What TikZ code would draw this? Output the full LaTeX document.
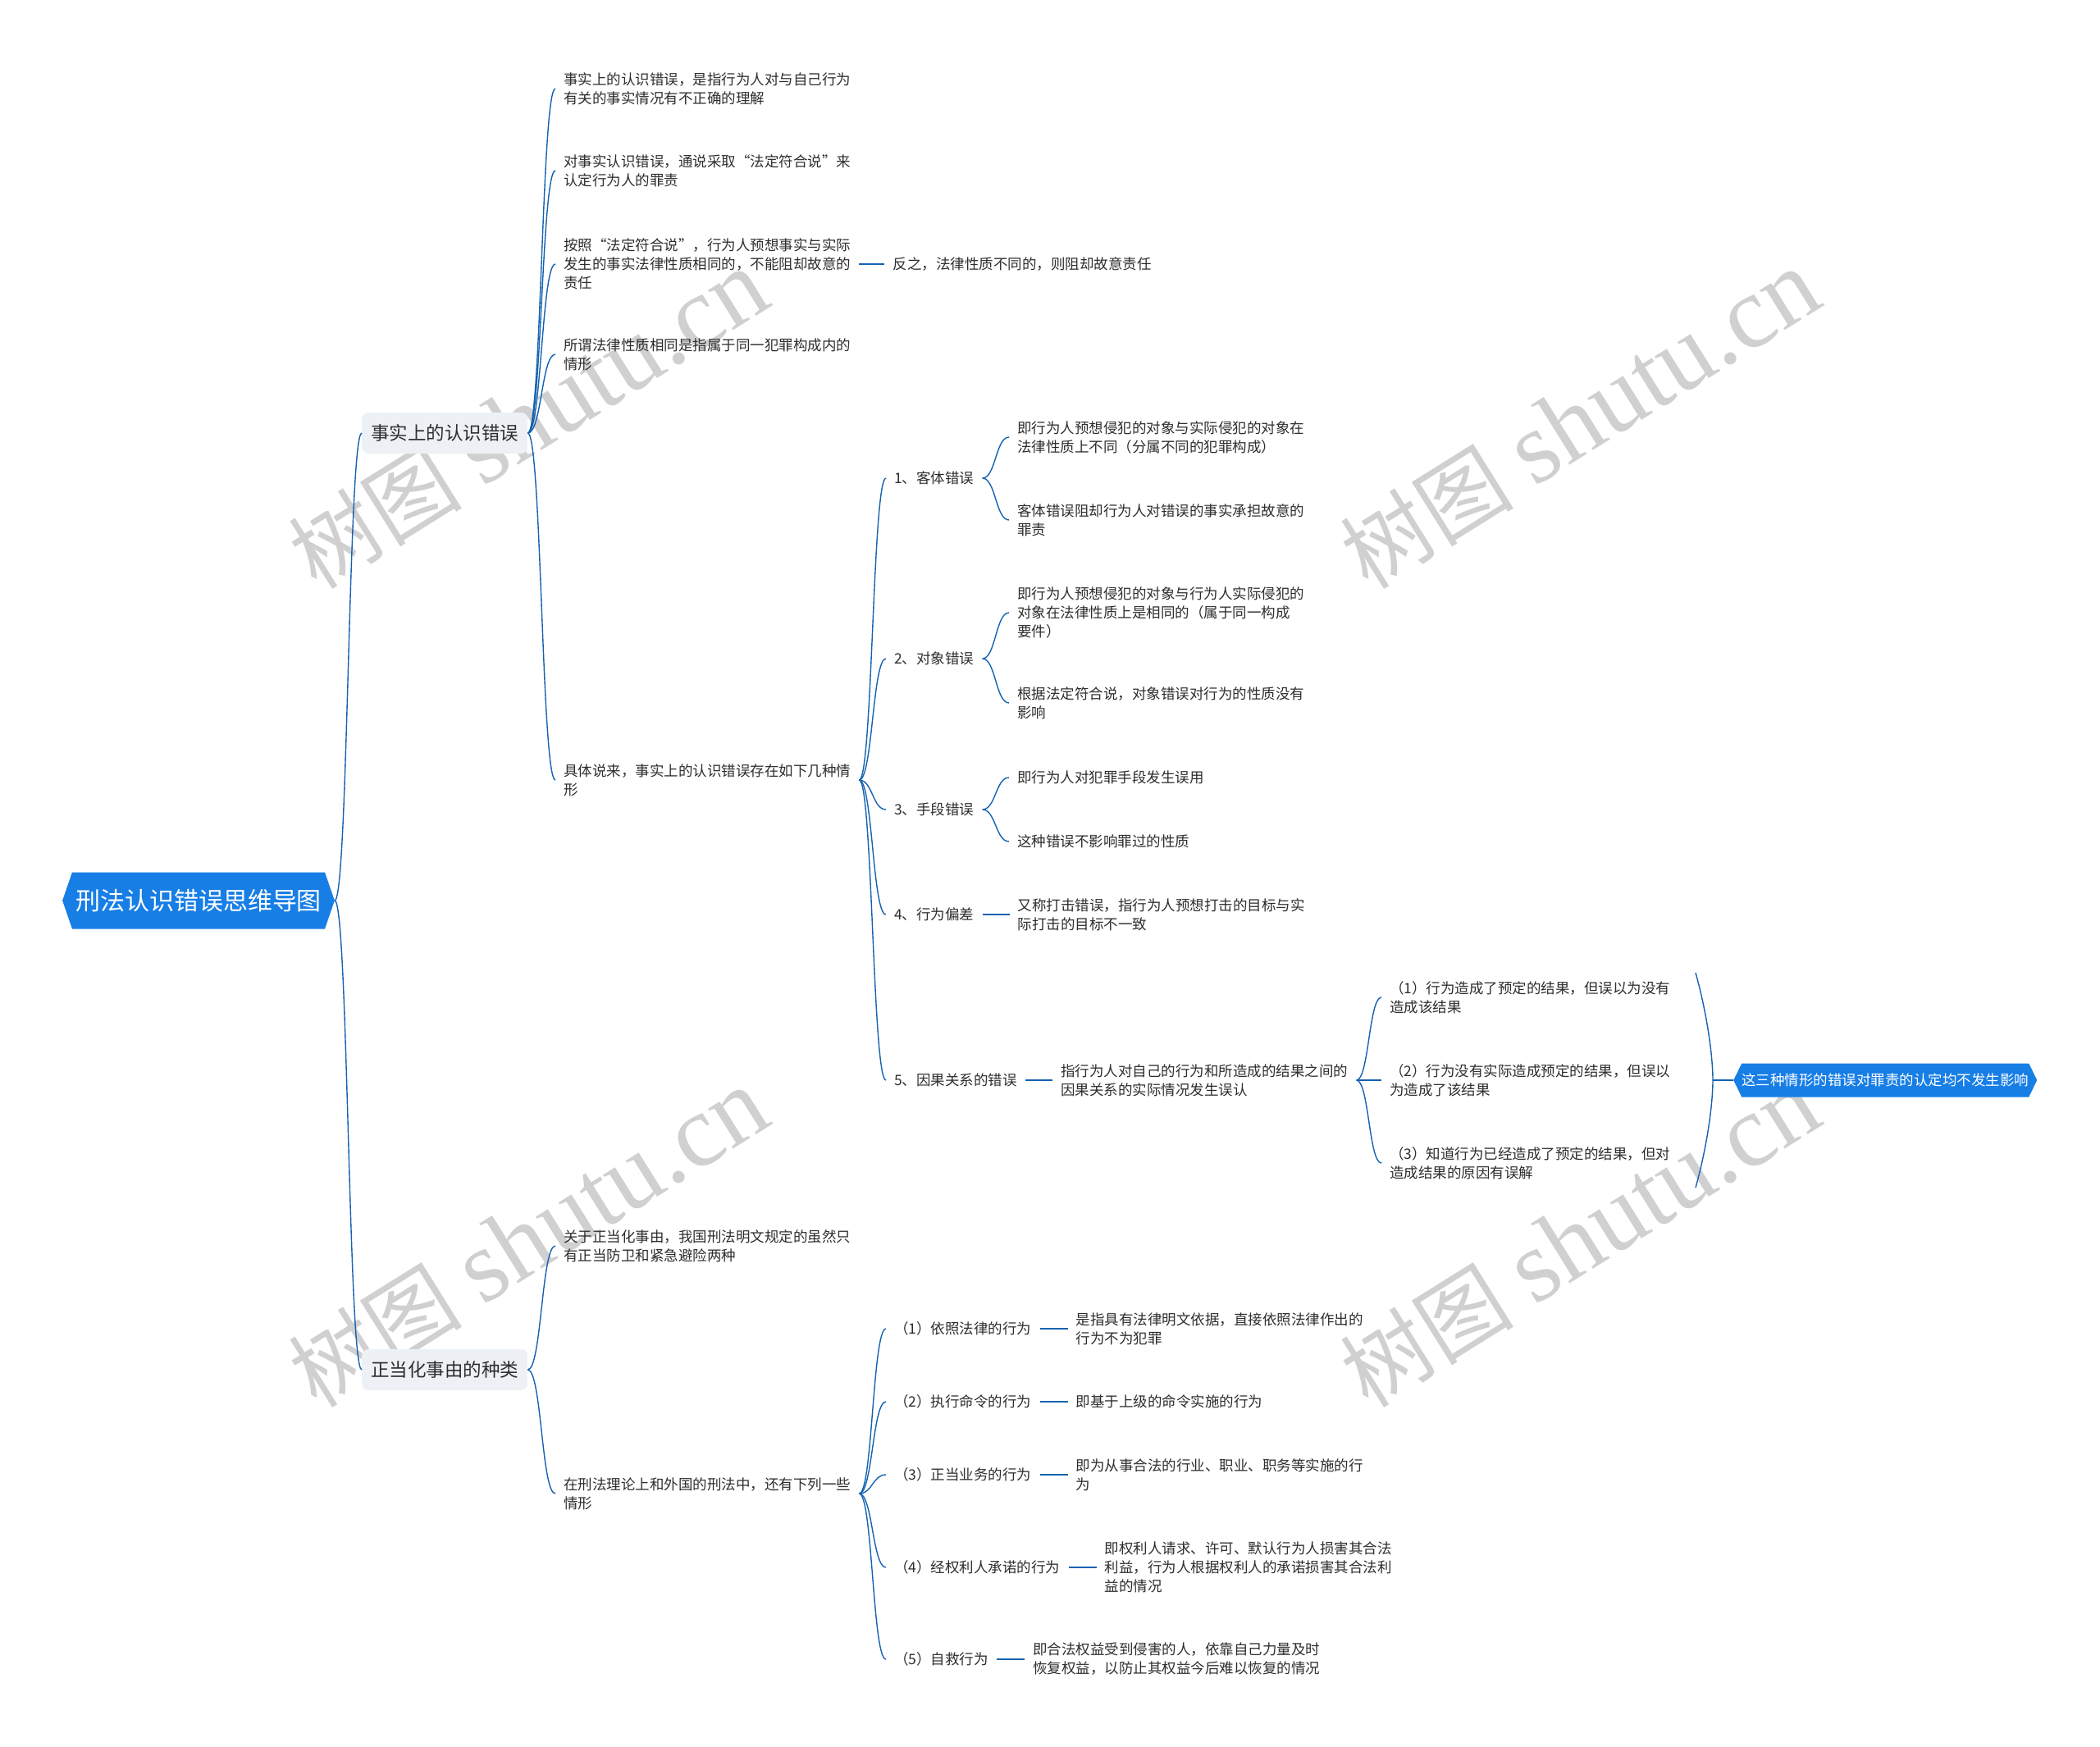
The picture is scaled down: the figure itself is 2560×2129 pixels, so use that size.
\documentclass[tikz,border=0pt]{standalone}
\usepackage{fontspec}
\setmainfont{Noto Sans CJK SC}
\newfontfamily\wmserif{Liberation Serif}
\usepackage{tikz}
\usetikzlibrary{positioning, shapes.symbols, calc}
\definecolor{rootblue}{RGB}{23,126,230}
\definecolor{linkblue}{RGB}{20,98,176}
\definecolor{topicgray}{RGB}{237,241,245}
\definecolor{inkgray}{RGB}{45,45,45}
\definecolor{wmgray}{RGB}{208,208,208}
\newcommand{\leaffont}{\fontsize{17.5}{23}\selectfont}
\newcommand{\topicfont}{\fontsize{22.5}{26}\selectfont}
\newcommand{\rootfont}{\fontsize{30}{34}\selectfont}

\begin{document}
\begin{tikzpicture}[x=1pt, y=-1pt, font=\leaffont, text=inkgray, node distance=34pt,
    leaf/.style={anchor=west, align=left, inner xsep=10pt, inner ysep=2pt},
    topic/.style={anchor=west, fill=topicgray, rounded corners=8pt, inner xsep=11pt, minimum height=50pt, font=\topicfont},
    hexa/.style={signal, signal to=west and east, fill=rootblue, text=white},
    wm/.style={text=wmgray, rotate=32, inner sep=0pt},
    link/.style={draw=linkblue, line width=1.4pt},
    brch/.style={link, to path={.. controls ($(\tikztostart)!0.5!(\tikztostart -| \tikztotarget)$) and ($(\tikztotarget)!0.5!(\tikztotarget -| \tikztostart)$) .. (\tikztotarget)}}]
  \useasboundingbox (0,0) rectangle (2560,2129);

  % watermarks
  \foreach \wx/\wy [count=\w] in {644/512, 1926/512, 644/1510, 1926/1510}
    \node[wm] (wm\w) at (\wx,\wy) {\fontsize{106}{106}\selectfont 树图\hspace{26pt}{\wmserif\fontsize{125}{125}\selectfont shutu.cn}};

  % root and main topics
  \node[hexa, minimum height=69pt, inner xsep=4pt, signal pointer angle=142, font=\rootfont] (root) at (242,1098) {刑法认识错误思维导图};
  \node[topic] (fact) at (441,528) {事实上的认识错误};
  \node[topic] (just) at (441,1670) {正当化事由的种类};

  % 事实上的认识错误
  \node[leaf] (fc1) at (677,108) {事实上的认识错误，是指行为人对与自己行为\\有关的事实情况有不正确的理解};
  \node[leaf] (fc2) at (677,208) {对事实认识错误，通说采取“法定符合说”来\\认定行为人的罪责};
  \node[leaf] (fc3) at (677,322) {按照“法定符合说”，行为人预想事实与实际\\发生的事实法律性质相同的，不能阻却故意的\\责任};
  \node[leaf, right=31pt of fc3] (fc3x) {反之，法律性质不同的，则阻却故意责任};
  \node[leaf] (fc4) at (677,432) {所谓法律性质相同是指属于同一犯罪构成内的\\情形};
  \node[leaf] (fc5) at (677,951) {具体说来，事实上的认识错误存在如下几种情\\形};

  \node[leaf] (er1) at (1080,583) {1、客体错误};
  \node[leaf] (er1a) at (1230,533) {即行为人预想侵犯的对象与实际侵犯的对象在\\法律性质上不同（分属不同的犯罪构成）};
  \node[leaf] (er1b) at (1230,634) {客体错误阻却行为人对错误的事实承担故意的\\罪责};
  \node[leaf] (er2) at (1080,803) {2、对象错误};
  \node[leaf] (er2a) at (1230,747) {即行为人预想侵犯的对象与行为人实际侵犯的\\对象在法律性质上是相同的（属于同一构成\\要件）};
  \node[leaf] (er2b) at (1230,857) {根据法定符合说，对象错误对行为的性质没有\\影响};
  \node[leaf] (er3) at (1080,987) {3、手段错误};
  \node[leaf] (er3a) at (1230,948) {即行为人对犯罪手段发生误用};
  \node[leaf] (er3b) at (1230,1026) {这种错误不影响罪过的性质};
  \node[leaf] (er4) at (1080,1115) {4、行为偏差};
  \node[leaf, right=33pt of er4] (er4a) {又称打击错误，指行为人预想打击的目标与实\\际打击的目标不一致};
  \node[leaf] (er5) at (1080,1317) {5、因果关系的错误};
  \node[leaf, right=33pt of er5] (er5a) {指行为人对自己的行为和所造成的结果之间的\\因果关系的实际情况发生误认};

  \node[leaf] (cz1) at (1684,1216) {（1）行为造成了预定的结果，但误以为没有\\造成该结果};
  \node[leaf] (cz2) at (1684,1317) {（2）行为没有实际造成预定的结果，但误以\\为造成了该结果};
  \node[leaf] (cz3) at (1684,1418) {（3）知道行为已经造成了预定的结果，但对\\造成结果的原因有误解};
  \coordinate (sumtop) at (2067,1186);
  \coordinate (sumtip) at (2088,1317);
  \coordinate (sumbot) at (2067,1448);
  \node[hexa, minimum height=41pt, inner xsep=0pt, signal pointer angle=128, right=25pt of sumtip] (verdict) {这三种情形的错误对罪责的认定均不发生影响};

  % 正当化事由的种类
  \node[leaf] (jc1) at (677,1519) {关于正当化事由，我国刑法明文规定的虽然只\\有正当防卫和紧急避险两种};
  \node[leaf] (jc2) at (677,1821) {在刑法理论上和外国的刑法中，还有下列一些\\情形};
  \node[leaf] (jt1) at (1080,1620) {（1）依照法律的行为};
  \node[leaf, right=34pt of jt1] (jt1d) {是指具有法律明文依据，直接依照法律作出的\\行为不为犯罪};
  \node[leaf] (jt2) at (1080,1709) {（2）执行命令的行为};
  \node[leaf, right=34pt of jt2] (jt2d) {即基于上级的命令实施的行为};
  \node[leaf] (jt3) at (1080,1798) {（3）正当业务的行为};
  \node[leaf, right=34pt of jt3] (jt3d) {即为从事合法的行业、职业、职务等实施的行\\为};
  \node[leaf] (jt4) at (1080,1911) {（4）经权利人承诺的行为};
  \node[leaf, right=34pt of jt4] (jt4d) {即权利人请求、许可、默认行为人损害其合法\\利益，行为人根据权利人的承诺损害其合法利\\益的情况};
  \node[leaf] (jt5) at (1080,2023) {（5）自救行为};
  \node[leaf, right=34pt of jt5] (jt5d) {即合法权益受到侵害的人，依靠自己力量及时\\恢复权益，以防止其权益今后难以恢复的情况};

  % connectors
  \draw[brch] (root.east) to (fact.west);
  \draw[brch] (root.east) to (just.west);
  \foreach \c in {fc1,fc2,fc3,fc4,fc5} \draw[brch] (fact.east) to (\c.west);
  \draw[brch] (fc3.east) to (fc3x.west);
  \foreach \c in {er1,er2,er3,er4,er5} \draw[brch] (fc5.east) to (\c.west);
  \foreach \p in {er1,er2,er3} {
    \draw[brch] (\p.east) to (\p a.west);
    \draw[brch] (\p.east) to (\p b.west);
  }
  \draw[brch] (er4.east) to (er4a.west);
  \draw[brch] (er5.east) to (er5a.west);
  \foreach \c in {cz1,cz2,cz3} \draw[brch] (er5a.east) to (\c.west);
  \draw[link] (sumtop) .. controls (2082,1240) and (2088,1290) .. (sumtip) .. controls (2088,1344) and (2082,1394) .. (sumbot);
  \draw[link] (sumtip) -- (verdict.west);
  \foreach \c in {jc1,jc2} \draw[brch] (just.east) to (\c.west);
  \foreach \c in {jt1,jt2,jt3,jt4,jt5} {
    \draw[brch] (jc2.east) to (\c.west);
    \draw[brch] (\c.east) to (\c d.west);
  }
\end{tikzpicture}
\end{document}
